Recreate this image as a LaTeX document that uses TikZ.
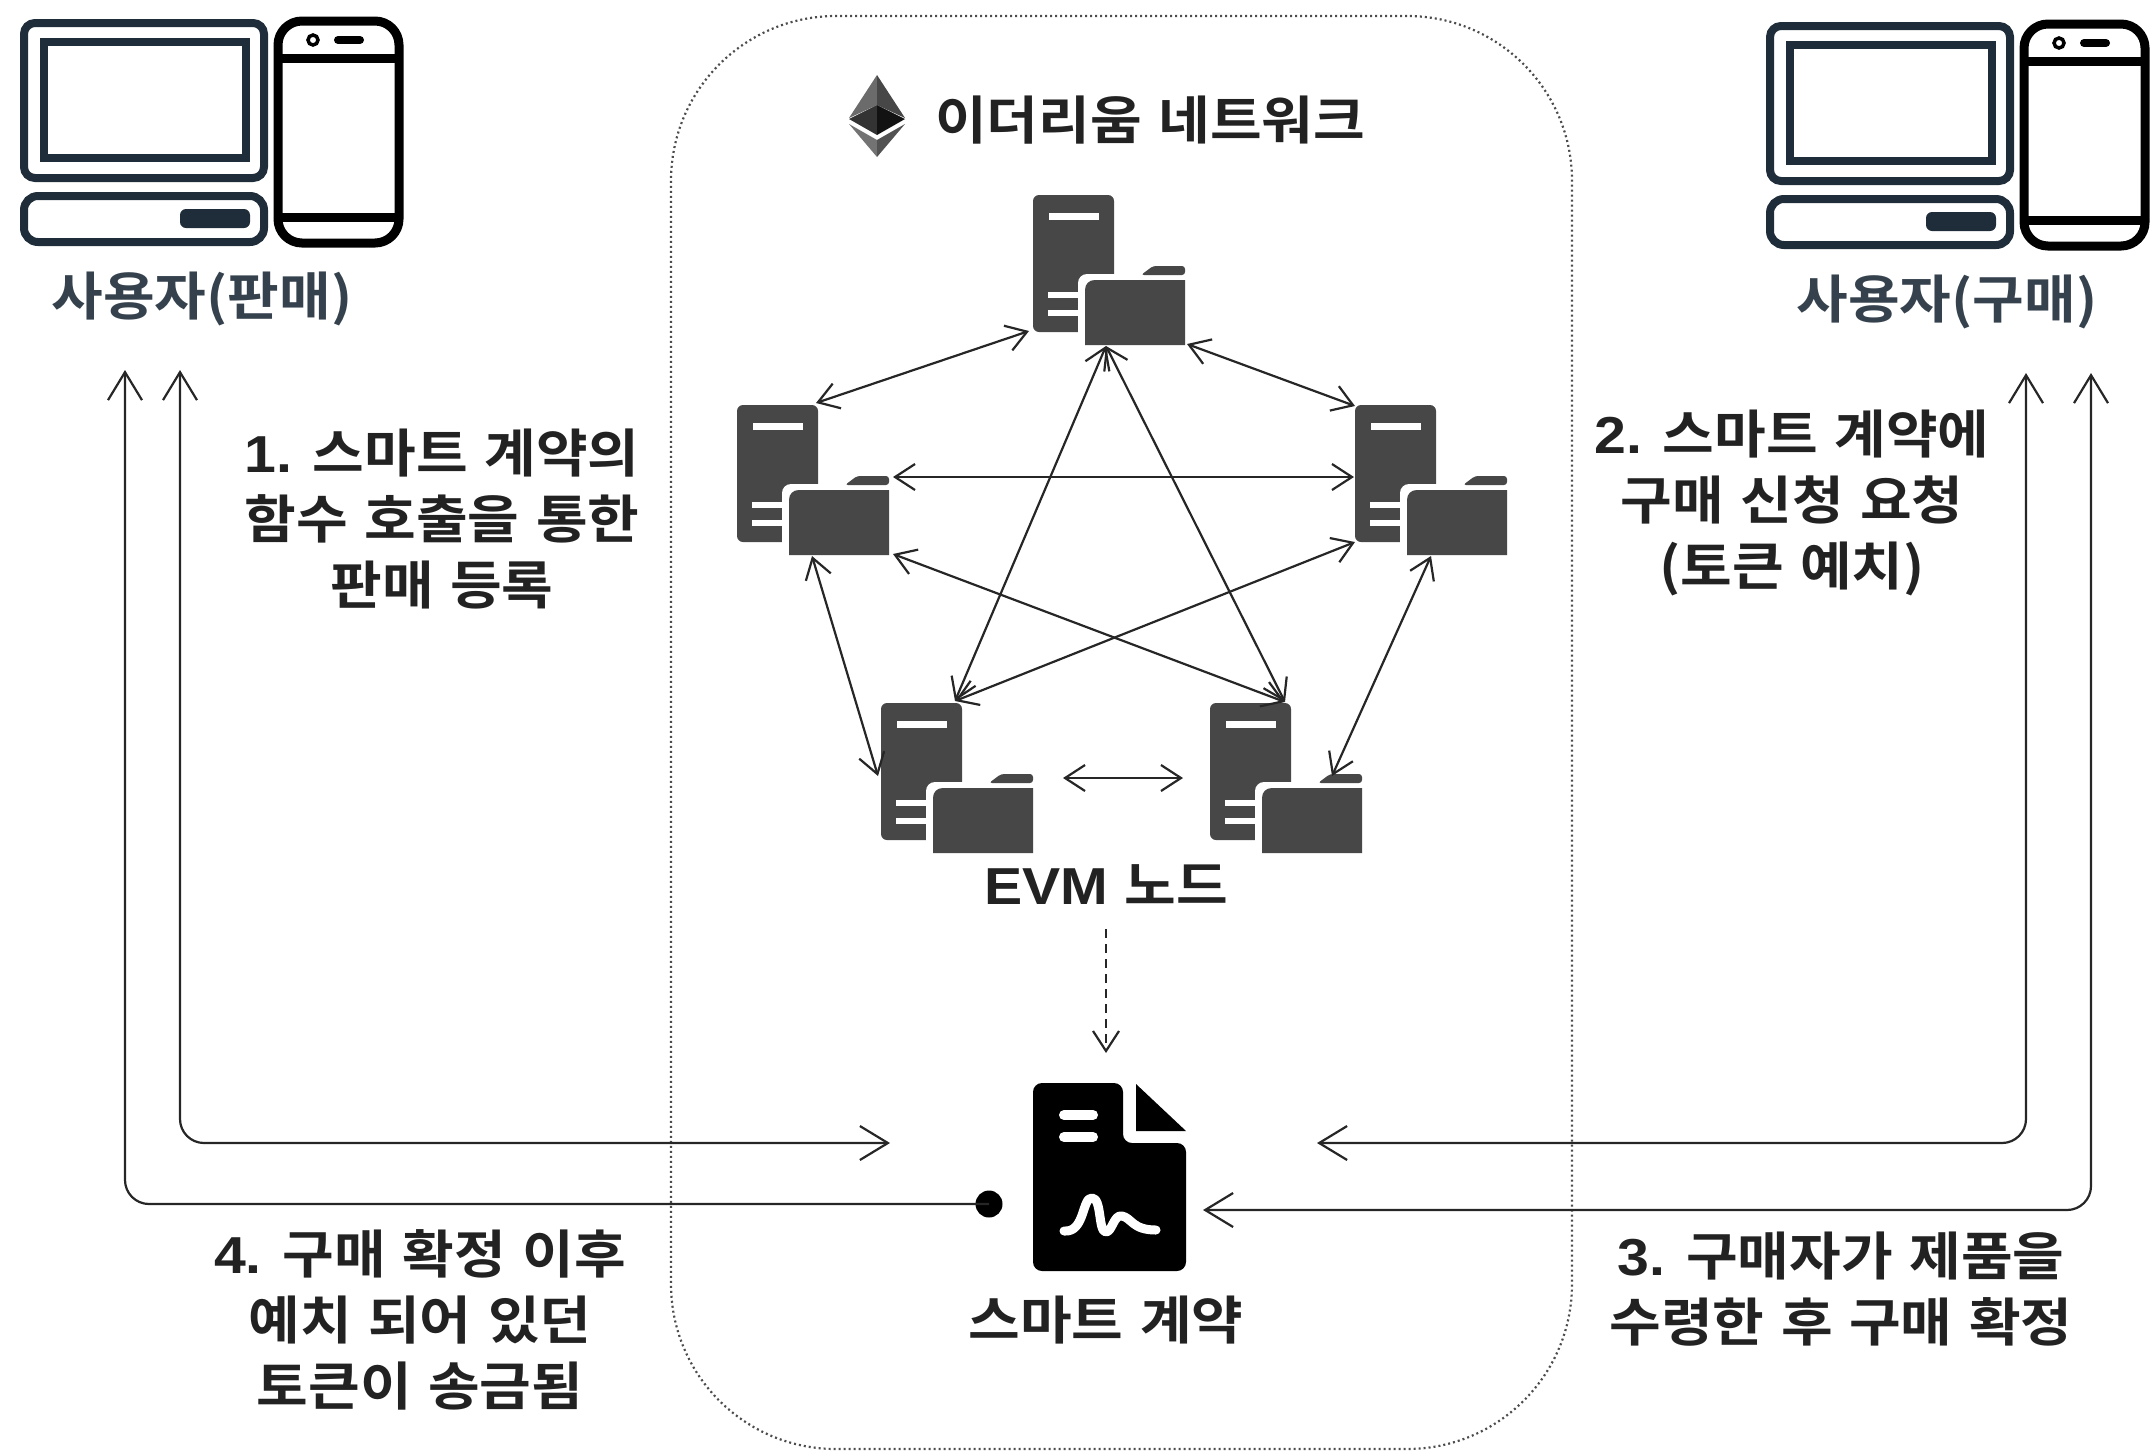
\documentclass[tikz,border=0pt]{standalone}
\usepackage{fontspec}
\usetikzlibrary{arrows.meta}
\setmainfont{Noto Sans CJK KR}[BoldFont={Noto Sans CJK KR Bold},FakeStretch=1.08,WordSpace=1.3]
\newfontfamily\latf{Liberation Sans}[BoldFont={Liberation Sans Bold},FakeStretch=1.1]
\definecolor{slate}{HTML}{1F2D3A}
\definecolor{srvgray}{HTML}{474747}
\definecolor{labelc}{HTML}{222222}
\tikzset{
  x=1pt,y=-1pt,
  lbl/.style={align=center,inner sep=0pt,text=labelc,font=\fontsize{52}{66}\selectfont\bfseries},
  userlbl/.style={lbl,text=slate!90!white},
  wire/.style={line width=2.2pt,draw=black!85},
  twoway/.style={wire,{Straight Barb[length=20pt,width=26pt,line width=2.2pt]}-{Straight Barb[length=20pt,width=26pt,line width=2.2pt]}},
  bigtwo/.style={wire,rounded corners=24pt,{Straight Barb[length=28pt,width=34pt,line width=2.2pt]}-{Straight Barb[length=28pt,width=34pt,line width=2.2pt]}},
  server/.pic={
    \fill[srvgray,rounded corners=6pt] (0,0) rectangle (81,137);
    \fill[white] (16,18) rectangle (66,25);
    \fill[white] (15,97) rectangle (46,103);
    \fill[white] (15,115) rectangle (46,121);
    \fill[white,rounded corners=9pt] (45,79) rectangle (165,165);
    \fill[srvgray] (152,85) -- (62,85) .. controls (56,85) and (52,89) .. (52,95) -- (52,150) -- (152,150) -- cycle;
    \fill[srvgray,rounded corners=3pt] (108,80) -- (120,71) -- (152,71) -- (152,80) -- cycle;
  },
  userbox/.pic={
    \draw[slate,line width=8pt,rounded corners=11pt] (24,23) rectangle (264,178);
    \draw[slate,line width=8pt] (44,42) rectangle (246,158);
    \draw[slate,line width=8pt,rounded corners=14pt] (24,196) rectangle (264,242);
    \fill[slate,rounded corners=6pt] (180,209) rectangle (250,228);
    \draw[black,line width=9pt,rounded corners=24pt] (278,21) rectangle (399,243);
    \draw[black,line width=9pt] (278,58) -- (399,58) (278,217) -- (399,217);
    \draw[black,line width=3.5pt] (313,40) circle (5pt);
    \draw[black,line width=8pt,line cap=round] (338,40) -- (360,40);
  }
}
\begin{document}
\begin{tikzpicture}
\useasboundingbox (0,0) rectangle (2151,1452);
% network boundary
\node[draw=black!70,line width=2.2pt,dash pattern=on 2pt off 3pt,rounded corners=165pt,minimum width=901pt,minimum height=1433pt,inner sep=0pt] (net) at (1121.5,732.5) {};
% users
\pic (seller) at (0,0) {userbox};
\pic (buyer) at (1746,3) {userbox};
\node[userlbl] (sellerlbl) at (202,299) {사용자(판매)};
\node[userlbl] (buyerlbl) at (1947,302) {사용자(구매)};
% ethereum logo
\fill[black!58] (877,75) -- (849,118) -- (877,105) -- cycle;
\fill[black!72] (877,75) -- (905,118) -- (877,105) -- cycle;
\fill[black!80] (849,119) -- (877,105) -- (877,135) -- cycle;
\fill[black!93] (905,119) -- (877,105) -- (877,135) -- cycle;
\fill[black!55] (849,124) -- (877,140) -- (877,157) -- cycle;
\fill[black!68] (905,124) -- (877,140) -- (877,157) -- cycle;
\node[lbl,anchor=west] (nettitle) at (935,120) {이더리움 네트워크};
% EVM nodes
\pic (n1) at (1033,195) {server};
\pic (n2) at (737,405) {server};
\pic (n3) at (1355,405) {server};
\pic (n4) at (881,703) {server};
\pic (n5) at (1210,703) {server};
% ports
\coordinate (p1a) at (1029,331);
\coordinate (p1b) at (1187,344);
\coordinate (p1c) at (1106,346);
\coordinate (p2a) at (816,403);
\coordinate (p2b) at (893,477);
\coordinate (p2c) at (893,554);
\coordinate (p2d) at (812,556);
\coordinate (p3a) at (1355,406);
\coordinate (p3b) at (1354,477);
\coordinate (p3c) at (1355,542);
\coordinate (p3d) at (1431,556);
\coordinate (p4a) at (955,701);
\coordinate (p4b) at (878,776);
\coordinate (p4c) at (1063,778);
\coordinate (p5a) at (1285,702);
\coordinate (p5b) at (1332,776);
\coordinate (p5c) at (1183,778);
\draw[twoway] (p1a) -- (p2a);
\draw[twoway] (p1b) -- (p3a);
\draw[twoway] (p2b) -- (p3b);
\draw[twoway] (p1c) -- (p4a);
\draw[twoway] (p1c) -- (p5a);
\draw[twoway] (p2c) -- (p5a);
\draw[twoway] (p3c) -- (p4a);
\draw[twoway] (p2d) -- (p4b);
\draw[twoway] (p3d) -- (p5b);
\draw[twoway] (p4c) -- (p5c);
\node[lbl] (evm) at (1106,885) {{\latf\bfseries EVM} 노드};
% contract icon
\fill[black,rounded corners=9pt] (1033,1083) -- (1123,1083) -- (1123,1143) -- (1186,1143) -- (1186,1271) -- (1033,1271) -- cycle;
\fill[black] (1136,1084) -- (1186,1131) -- (1136,1131) -- cycle;
\draw[white,line width=10pt,line cap=round] (1064,1115) -- (1093,1115) (1064,1137) -- (1093,1137);
\draw[white,line width=9pt,line cap=round,line join=round] (1064,1231) .. controls (1085,1233) and (1082,1197) .. (1092,1198) .. controls (1102,1198) and (1098,1232) .. (1106,1232) .. controls (1112,1232) and (1114,1214) .. (1122,1216) .. controls (1132,1218) and (1132,1230) .. (1156,1230);
\coordinate (contractL) at (890,1143);
\coordinate (contractR) at (1317,1143);
\coordinate (contractRb) at (1203,1210);
\node[fill=black,circle,inner sep=0pt,minimum size=27pt] (dot) at (989,1204) {};
\node[lbl] (contractlbl) at (1106,1320) {스마트 계약};
\coordinate (dashS) at (1106,929);
\coordinate (dashE) at (1106,1053);
\draw[wire,line width=2.6pt,dash pattern=on 9pt off 6pt,-{Straight Barb[length=20pt,width=26pt,line width=2.2pt]}] (dashS) -- (dashE);
% long connectors
\coordinate (l1) at (125,370);
\coordinate (l2) at (180,370);
\coordinate (r1) at (2026,373);
\coordinate (r2) at (2091,373);
\draw[wire,rounded corners=24pt,-{Straight Barb[length=28pt,width=34pt,line width=2.2pt]}] (dot.center) -- (l1 |- dot.center) -- (l1);
\draw[bigtwo] (l2) -- (l2 |- contractL) -- (contractL);
\draw[bigtwo] (r1) -- (r1 |- contractR) -- (contractR);
\draw[bigtwo] (r2) -- (r2 |- contractRb) -- (contractRb);
% labels
\node[lbl] (t1) at (442,519) {{\latf\bfseries 1.} 스마트 계약의\\함수 호출을 통한\\판매 등록};
\node[lbl] (t2) at (1792,503) {{\latf\bfseries 2.} 스마트 계약에\\구매 신청 요청\\({}토큰 예치)};
\node[lbl] (t3) at (1841,1289) {{\latf\bfseries 3.} 구매자가 제품을\\수령한 후 구매 확정};
\node[lbl] (t4) at (420,1320) {{\latf\bfseries 4.} 구매 확정 이후\\예치 되어 있던\\토큰이 송금됨};
\end{tikzpicture}
\end{document}
